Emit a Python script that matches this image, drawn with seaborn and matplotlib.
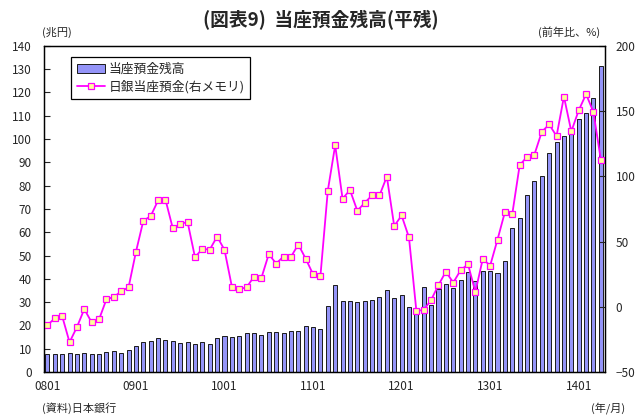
import numpy as np
import seaborn as sns
import matplotlib.pyplot as plt

# データ（日本銀行、月次平残）
MONTHS = ['0801', '0802', '0803', '0804', '0805', '0806', '0807', '0808', '0809', '0810', '0811', '0812',
          '0901', '0902', '0903', '0904', '0905', '0906', '0907', '0908', '0909', '0910', '0911', '0912',
          '1001', '1002', '1003', '1004', '1005', '1006', '1007', '1008', '1009', '1010', '1011', '1012',
          '1101', '1102', '1103', '1104', '1105', '1106', '1107', '1108', '1109', '1110', '1111', '1112',
          '1201', '1202', '1203', '1204', '1205', '1206', '1207', '1208', '1209', '1210', '1211', '1212',
          '1301', '1302', '1303', '1304', '1305', '1306', '1307', '1308', '1309', '1310', '1311', '1312',
          '1401', '1402', '1403', '1404']

# 当座預金残高（兆円）
BALANCE = [7.9, 7.9, 7.9, 8.0, 7.6, 8.3, 7.7, 7.9, 8.7, 9.0, 8.3, 9.4,
           11.0, 13.0, 13.4, 14.7, 13.6, 13.3, 12.4, 12.9, 12.0, 12.7, 12.0, 14.4,
           15.6, 15.0, 15.3, 16.7, 16.7, 16.0, 17.3, 17.2, 16.6, 17.6, 17.6, 19.7,
           19.5, 18.3, 28.5, 37.3, 30.5, 30.5, 30.0, 30.6, 30.8, 32.3, 35.1, 31.9,
           33.2, 27.9, 26.5, 36.3, 28.7, 35.5, 37.9, 36.1, 39.3, 42.8, 38.9, 43.5,
           43.5, 42.3, 47.5, 61.8, 66.1, 76.1, 82.2, 84.3, 93.8, 98.6, 101.1, 102.5,
           108.5, 111.0, 117.8, 131.3]

# 日銀当座預金 前年比（%）
BOJ_YOY = [-14.1, -8.9, -7.2, -27.2, -15.6, -1.8, -12.0, -9.7, 5.7, 7.5, 11.8, 14.9,
           42.1, 65.9, 69.5, 81.5, 82.1, 60.0, 63.6, 64.9, 38.0, 44.4, 43.8, 53.8,
           43.6, 15.4, 13.5, 14.9, 23.1, 22.1, 40.3, 33.1, 38.5, 38.2, 47.7, 36.9,
           24.9, 23.6, 89.0, 123.8, 82.8, 89.5, 73.6, 79.7, 85.4, 85.3, 99.8, 61.8,
           70.0, 53.1, -3.1, -2.5, 5.2, 16.7, 26.9, 18.5, 28.0, 32.6, 11.3, 36.7,
           31.5, 51.5, 72.6, 71.1, 108.5, 115.0, 116.7, 134.1, 139.8, 130.8, 161.1, 134.4,
           150.5, 163.0, 149.2, 112.6]

XTICK_LABELS = ['0801', '0901', '1001', '1101', '1201', '1301', '1401']

BAR_COLOR = '#9494F8'
LINE_COLOR = '#FF00FF'
MARKER_FACE = '#FFFF99'

sns.set_style('white')
plt.rcParams['font.family'] = ['Noto Sans CJK JP', 'DejaVu Sans']


def main():
    fig = plt.figure(figsize=(6.35, 4.17), dpi=100)
    ax = fig.add_axes([0.070, 0.108, 0.882, 0.782])

    sns.barplot(x=MONTHS, y=BALANCE, color=BAR_COLOR, saturation=1,
                edgecolor='#1a1a1a', linewidth=0.7, width=0.55, ax=ax)
    ax.set_xlim(-0.4, len(MONTHS) - 0.5)
    ax.set_ylim(0, 140)
    ax.set_yticks(np.arange(0, 141, 10))
    ax.set_xticks([MONTHS.index(m) for m in XTICK_LABELS])
    ax.set_xticklabels(XTICK_LABELS)
    ax.set_xlabel('')
    ax.set_ylabel('')
    ax.tick_params(axis='y', direction='in', length=4, width=0.8, pad=9, labelsize=8.5)
    ax.tick_params(axis='x', direction='in', length=2, width=0.6, pad=6, labelsize=8.5)

    ax2 = ax.twinx()
    sns.lineplot(x=np.arange(len(MONTHS)), y=BOJ_YOY, ax=ax2, color=LINE_COLOR,
                 linewidth=1.3, marker='s', markersize=4.2, markerfacecolor=MARKER_FACE,
                 markeredgecolor=LINE_COLOR, markeredgewidth=0.9)
    ax2.set_ylim(-50, 200)
    ax2.set_yticks(np.arange(-50, 201, 50))
    ax2.tick_params(axis='y', direction='in', length=4, width=0.8, pad=8, labelsize=8.5)
    ax2.set_xlim(-0.4, len(MONTHS) - 0.5)

    for a in (ax, ax2):
        for s in a.spines.values():
            s.set_visible(True)
            s.set_color('black')
            s.set_linewidth(0.9)

    handles = [ax.containers[0], ax2.get_lines()[0]]
    leg = ax2.legend(handles, ['当座預金残高', '日銀当座預金(右メモリ)'],
                     loc='upper left', bbox_to_anchor=(0.047, 0.965), fontsize=9.2,
                     frameon=True, fancybox=False, edgecolor='black', framealpha=1,
                     borderpad=0.45, labelspacing=0.3, handlelength=2.2, handletextpad=0.3,
                     borderaxespad=0)
    leg.get_frame().set_linewidth(0.9)

    fig.text(0.505, 0.952, '(図表9)  当座預金残高(平残)', ha='center', va='center',
             fontsize=13.5, fontweight='bold')
    fig.text(0.066, 0.922, '(兆円)', ha='left', va='center', fontsize=8)
    fig.text(0.945, 0.922, '(前年比、%)', ha='right', va='center', fontsize=8)
    fig.text(0.066, 0.022, '(資料)日本銀行', ha='left', va='center', fontsize=8)
    fig.text(0.985, 0.022, '(年/月)', ha='right', va='center', fontsize=8)

    fig.savefig('out.png', dpi=100)


if __name__ == '__main__':
    main()
